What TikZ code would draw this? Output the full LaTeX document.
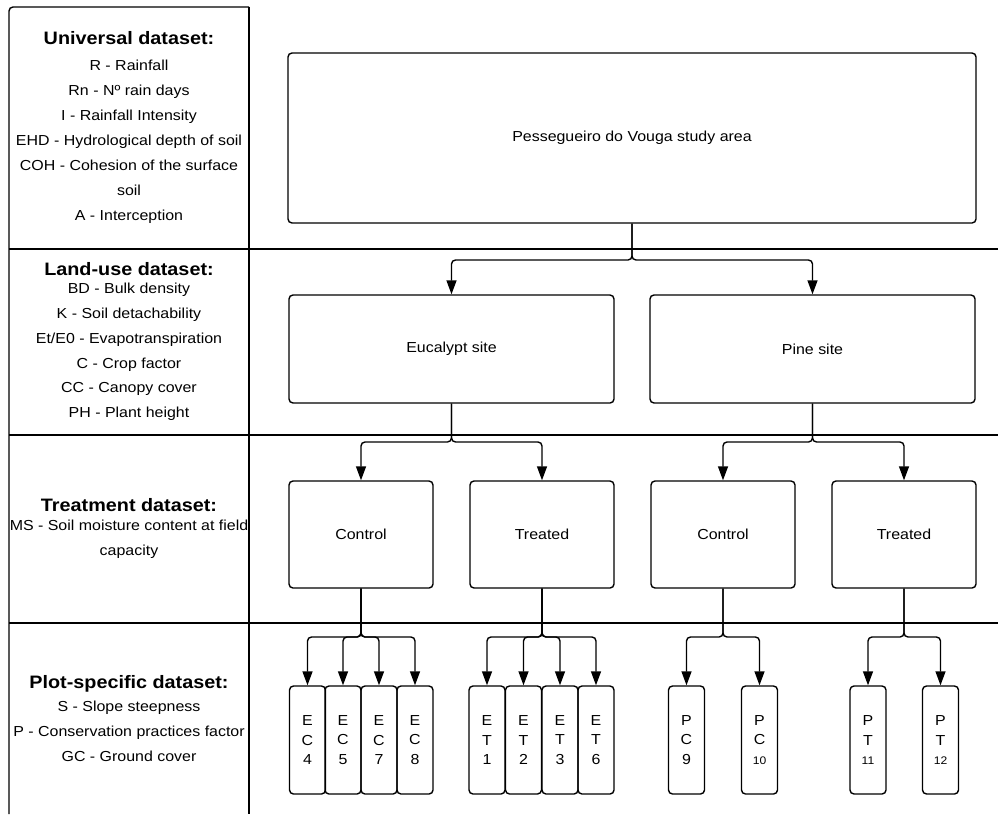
\documentclass[tikz,border=0pt]{standalone}
\usepackage{fontspec}
\setmainfont{Liberation Sans}[FakeStretch=1.1]
\usetikzlibrary{arrows.meta}
\tikzset{
  sepline/.style={line width=1.4pt},
  boxbase/.style={draw, line width=1.4pt, rounded corners=4pt, inner sep=0pt, align=center,
    font=\fontsize{14.5}{19.5}\selectfont},
  bigbox/.style={boxbase, minimum width=688pt, minimum height=170pt},
  sitebox/.style={boxbase, minimum width=325pt, minimum height=108pt},
  trtbox/.style={boxbase, minimum width=144pt, minimum height=107pt},
  leafbox/.style={boxbase, minimum width=36pt, minimum height=108pt},
  conn/.style={line width=1.4pt, rounded corners=4pt, -{Triangle[length=14pt,width=10pt]}},
  headtxt/.style={font=\fontsize{18}{22}\selectfont\bfseries, inner sep=0pt},
  bodytxt/.style={font=\fontsize{14.5}{25}\selectfont, align=center, inner sep=0pt},
}
\newcommand{\smallnum}[1]{{\fontsize{11}{19.5}\selectfont #1}}
\begin{document}
\begin{tikzpicture}[x=1pt, y=-1pt]
\useasboundingbox (0,0) rectangle (998,814);
% frame of the left column
\draw[sepline, rounded corners=4pt] (249,7) -- (9,7) -- (9,814);
\draw[sepline] (249,7) -- (249,814);
\draw[sepline] (9,249) -- (998,249);
\draw[sepline] (9,435) -- (998,435);
\draw[sepline] (9,623) -- (998,623);

% left column texts
\node[headtxt] (h1) at (129,38) {Universal dataset:};
\node[bodytxt] (b1) at (129,142) {R - Rainfall\\Rn - Nº rain days\\I - Rainfall Intensity\\EHD - Hydrological depth of soil\\COH - Cohesion of the surface\\soil\\A - Interception};
\node[headtxt] (h2) at (129,269) {Land-use dataset:};
\node[bodytxt, font=\fontsize{14.5}{24.8}\selectfont] (b2) at (129,352) {BD - Bulk density\\K - Soil detachability\\Et/E0 - Evapotranspiration\\C - Crop factor\\CC - Canopy cover\\PH - Plant height};
\node[headtxt] (h3) at (129,505) {Treatment dataset:};
\node[bodytxt] (b3) at (129,539.5) {MS - Soil moisture content at field\\capacity};
\node[headtxt] (h4) at (129,684) {Plot-specific dataset:};
\node[bodytxt] (b4) at (129,731) {S - Slope steepness\\P - Conservation practices factor\\GC - Ground cover};

% boxes
\node[bigbox] (study) at (632,138) {Pessegueiro do Vouga study area};
\node[sitebox] (euc) at (451.5,349) {Eucalypt site};
\node[sitebox] (pine) at (812.5,349) {Pine site};
\node[trtbox] (ec) at (361,534.5) {Control};
\node[trtbox] (et) at (542,534.5) {Treated};
\node[trtbox] (pc) at (723,534.5) {Control};
\node[trtbox] (pt) at (904,534.5) {Treated};

\node[leafbox] (ec4) at (307.5,740) {E\\C\\4};
\node[leafbox] (ec5) at (343,740) {E\\C\\5};
\node[leafbox] (ec7) at (379,740) {E\\C\\7};
\node[leafbox] (ec8) at (415,740) {E\\C\\8};
\node[leafbox] (et1) at (487,740) {E\\T\\1};
\node[leafbox] (et2) at (523.5,740) {E\\T\\2};
\node[leafbox] (et3) at (560,740) {E\\T\\3};
\node[leafbox] (et6) at (596,740) {E\\T\\6};
\node[leafbox] (pc9) at (686.5,740) {P\\C\\9};
\node[leafbox] (pc10) at (759.5,740) {P\\C\\\smallnum{10}};
\node[leafbox] (pt11) at (868,740) {P\\T\\\smallnum{11}};
\node[leafbox] (pt12) at (940.5,740) {P\\T\\\smallnum{12}};

% connectors
\foreach \c in {euc,pine}
  \draw[conn] (study.south) -- (study.south |- 0,260) -| (\c.north);
\foreach \c in {ec,et}
  \draw[conn] (euc.south) -- (euc.south |- 0,442) -| (\c.north);
\foreach \c in {pc,pt}
  \draw[conn] (pine.south) -- (pine.south |- 0,442) -| (\c.north);
\foreach \c in {ec4,ec5,ec7,ec8}
  \draw[conn] (ec.south) -- (ec.south |- 0,637) -| (\c.north);
\foreach \c in {et1,et2,et3,et6}
  \draw[conn] (et.south) -- (et.south |- 0,637) -| (\c.north);
\foreach \c in {pc9,pc10}
  \draw[conn] (pc.south) -- (pc.south |- 0,637) -| (\c.north);
\foreach \c in {pt11,pt12}
  \draw[conn] (pt.south) -- (pt.south |- 0,637) -| (\c.north);
\end{tikzpicture}
\end{document}
